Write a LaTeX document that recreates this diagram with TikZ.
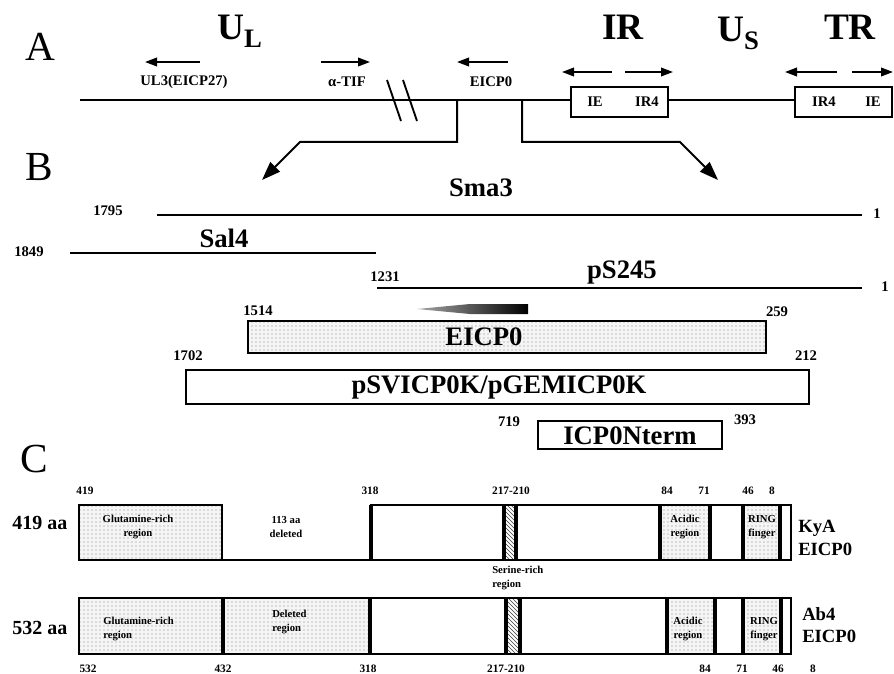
\documentclass[tikz,border=0pt]{standalone}
\usepackage{fontspec}
\setmainfont{Liberation Serif}
\usetikzlibrary{arrows.meta,patterns}
\begin{document}
\begin{tikzpicture}[x=0.75pt,y=-0.75pt,
  biglet/.style={font=\fontsize{31}{31}\selectfont, inner sep=0pt},
  regfont/.style={font=\fontsize{28}{28}\selectfont\bfseries, inner sep=0pt},
  lab/.style={font=\fontsize{20}{20}\selectfont\bfseries, inner sep=0pt},
  smalllab/.style={font=\fontsize{11}{11}\selectfont\bfseries, inner sep=0pt},
  numlab/.style={font=\fontsize{11}{11}\selectfont\bfseries, inner sep=0pt},
  cnum/.style={font=\fontsize{8.5}{8.5}\selectfont\bfseries, inner sep=0pt},
  rtext/.style={font=\fontsize{8}{10}\selectfont\bfseries, inner sep=0pt, align=center},
  rtextl/.style={font=\fontsize{8}{10.5}\selectfont\bfseries, inner sep=0pt, align=left},
  strain/.style={font=\fontsize{14}{17}\selectfont\bfseries, inner sep=0pt, align=left, anchor=west},
  genome/.style={line width=1.6pt},
  boxline/.style={line width=1.1pt},
  frag/.style={line width=2pt},
  gene/.style={line width=1.2pt, -{Triangle[length=9pt,width=6.5pt]}},
  bentarrow/.style={line width=1.5pt, -{Triangle[length=14pt,width=10pt]}},
  stipple/.style={preaction={fill=black!4}, pattern=dots, pattern color=black!50},
  hatchfill/.style={pattern=north west lines, pattern color=black!75},
  outerline/.style={line width=1.9pt},
  divider/.style={line width=3pt}
]
\useasboundingbox (0,0) rectangle (894,674);

% ---------------- Section A ----------------
\node[biglet] (lA) at (40,47) {A};
\node[regfont, anchor=base west] (UL) at (217,40) {U\raisebox{-6pt}{\fontsize{20}{20}\selectfont L}};
\node[regfont, anchor=base] (IR) at (623,40) {IR};
\node[regfont, anchor=base west] (US) at (717,42) {U\raisebox{-6pt}{\fontsize{20}{20}\selectfont S}};
\node[regfont, anchor=base] (TR) at (850,40) {TR};

\coordinate (ul3s) at (200,62); \coordinate (ul3e) at (145,62);
\coordinate (tifs) at (321,62); \coordinate (tife) at (370,62);
\coordinate (e0s) at (508,62);  \coordinate (e0e) at (457,62);
\draw[gene] (ul3s) -- (ul3e);
\draw[gene] (tifs) -- (tife);
\draw[gene] (e0s) -- (e0e);
\node[smalllab] (ul3) at (184,82) {UL3(EICP27)};
\node[smalllab] (atif) at (347,82) {α-TIF};
\node[smalllab] (eicpA) at (491,82) {EICP0};

\coordinate (irl1) at (612,72); \coordinate (irl2) at (562,72);
\coordinate (irr1) at (625,72); \coordinate (irr2) at (673,72);
\coordinate (trl1) at (837,72); \coordinate (trl2) at (785,72);
\coordinate (trr1) at (852,72); \coordinate (trr2) at (893,72);
\draw[gene] (irl1) -- (irl2);
\draw[gene] (irr1) -- (irr2);
\draw[gene] (trl1) -- (trl2);
\draw[gene] (trr1) -- (trr2);

% genome line
\coordinate (g0) at (80,100);
\coordinate (g1) at (571,100);
\coordinate (g2) at (668,100);
\coordinate (g3) at (795,100);
\draw[genome] (g0) -- (g1);
\draw[genome] (g2) -- (g3);
\draw[line width=1.4pt] (387,80) -- (401,121);
\draw[line width=1.4pt] (403,80) -- (417,121);

\draw[boxline, fill=white] (571,87) rectangle (668,117);
\node[smalllab] (ie1) at (595,102) {IE};
\node[smalllab] (ir41) at (647,102) {IR4};
\draw[boxline, fill=white] (795,87) rectangle (892,117);
\node[smalllab] (ir42) at (824,102) {IR4};
\node[smalllab] (ie2) at (873,102) {IE};

% bent arrows to section B
\coordinate (bL0) at (457,100); \coordinate (bL1) at (457,142); \coordinate (bL2) at (300,142); \coordinate (bL3) at (262,180);
\coordinate (bR0) at (522,100); \coordinate (bR1) at (522,142); \coordinate (bR2) at (680,142); \coordinate (bR3) at (718,180);
\draw[bentarrow] (bL0) -- (bL1) -- (bL2) -- (bL3);
\draw[bentarrow] (bR0) -- (bR1) -- (bR2) -- (bR3);

% ---------------- Section B ----------------
\node[biglet] (lB) at (39,167) {B};

\draw[frag] (157,215) -- (862,215);
\node[numlab] (n1795) at (108,211) {1795};
\node[numlab] (n1a) at (877,214) {1};
\node[lab] (sma3) at (481,188) {Sma3};

\draw[frag] (70,253) -- (376,253);
\node[numlab] (n1849) at (29,252) {1849};
\node[lab] (sal4) at (224,238) {Sal4};

\draw[frag] (377,288) -- (862,288);
\node[numlab] (n1231) at (385,277) {1231};
\node[numlab] (n1b) at (885,287) {1};
\node[lab] (ps245) at (622,273) {pS245};

% gray gradient arrow
\shade[left color=black!35, right color=black] (417,309) -- (470,304) -- (528,304) -- (528,314) -- (470,314) -- cycle;

\draw[line width=1.8pt, stipple] (248,321) rectangle (766,353);
\node[lab] (eicpB) at (484,337) {EICP0};
\node[numlab] (n1514) at (258,311) {1514};
\node[numlab] (n259) at (777,312) {259};

\draw[line width=1.8pt] (186,370) rectangle (809,404);
\node[lab] (psv) at (499,387) {pSVICP0K/pGEMICP0K};
\node[numlab] (n1702) at (188,356) {1702};
\node[numlab] (n212) at (806,356) {212};

\draw[line width=1.8pt] (538,421) rectangle (722,449);
\node[lab] (nterm) at (630,436) {ICP0Nterm};
\node[numlab] (n719) at (509,422) {719};
\node[numlab] (n393) at (745,420) {393};

% ---------------- Section C ----------------
\node[biglet] (lC) at (34,459) {C};

% row 1 (KyA)
\node[font=\fontsize{15}{15}\selectfont\bfseries, inner sep=0pt] (aa419) at (40,523) {419 aa};
\fill[stipple] (79,505) rectangle (222,560);
\fill[hatchfill] (504,505) rectangle (516,560);
\fill[stipple] (660,505) rectangle (710,560);
\fill[stipple] (743,505) rectangle (780,560);
\draw[outerline] (79,505) rectangle (222,560);
\draw[outerline] (222,560) -- (371,560);
\draw[outerline] (371,505) rectangle (791,560);
\draw[divider] (371,505) -- (371,560);
\draw[divider] (504,505) -- (504,560);
\draw[divider] (516,505) -- (516,560);
\draw[divider] (660,505) -- (660,560);
\draw[divider] (710,505) -- (710,560);
\draw[divider] (743,505) -- (743,560);
\draw[divider] (780,505) -- (780,560);

\node[rtext] (glu1) at (138,527) {Glutamine-rich\\region};
\node[rtext] (del1) at (286,527) {113 aa\\deleted};
\node[rtext] (acid1) at (685,527) {Acidic\\region};
\node[rtext] (ring1) at (762,527) {RING\\finger};
\node[strain] (kya) at (798,538) {KyA\\EICP0};

\node[cnum] (c419) at (85,491) {419};
\node[cnum] (c318a) at (370,491) {318};
\node[cnum] (c217a) at (511,491) {217-210};
\node[cnum] (c84a) at (667,491) {84};
\node[cnum] (c71a) at (704,491) {71};
\node[cnum] (c46a) at (748,491) {46};
\node[cnum] (c8a) at (772,491) {8};

\node[rtextl, anchor=north west] (ser) at (492,566) {Serine-rich\\region};

% row 2 (Ab4)
\node[font=\fontsize{15}{15}\selectfont\bfseries, inner sep=0pt] (aa532) at (40,628) {532 aa};
\fill[stipple] (79,598) rectangle (370,654);
\fill[hatchfill] (506,598) rectangle (520,654);
\fill[stipple] (667,598) rectangle (715,654);
\fill[stipple] (743,598) rectangle (781,654);
\draw[outerline] (79,598) rectangle (791,654);
\draw[divider] (223,598) -- (223,654);
\draw[divider] (370,598) -- (370,654);
\draw[divider] (506,598) -- (506,654);
\draw[divider] (520,598) -- (520,654);
\draw[divider] (667,598) -- (667,654);
\draw[divider] (715,598) -- (715,654);
\draw[divider] (743,598) -- (743,654);
\draw[divider] (781,598) -- (781,654);

\node[rtextl, anchor=west] (glu2) at (103,629) {Glutamine-rich\\region};
\node[rtextl, anchor=west] (del2) at (272,622) {Deleted\\region};
\node[rtext] (acid2) at (688,629) {Acidic\\region};
\node[rtext] (ring2) at (764,629) {RING\\finger};
\node[strain] (ab4) at (802,625) {Ab4\\EICP0};

\node[cnum] (c532) at (88,669) {532};
\node[cnum] (c432) at (223,669) {432};
\node[cnum] (c318b) at (368,669) {318};
\node[cnum] (c217b) at (506,669) {217-210};
\node[cnum] (c84b) at (705,669) {84};
\node[cnum] (c71b) at (742,669) {71};
\node[cnum] (c46b) at (778,669) {46};
\node[cnum] (c8b) at (813,669) {8};
\end{tikzpicture}
\end{document}
